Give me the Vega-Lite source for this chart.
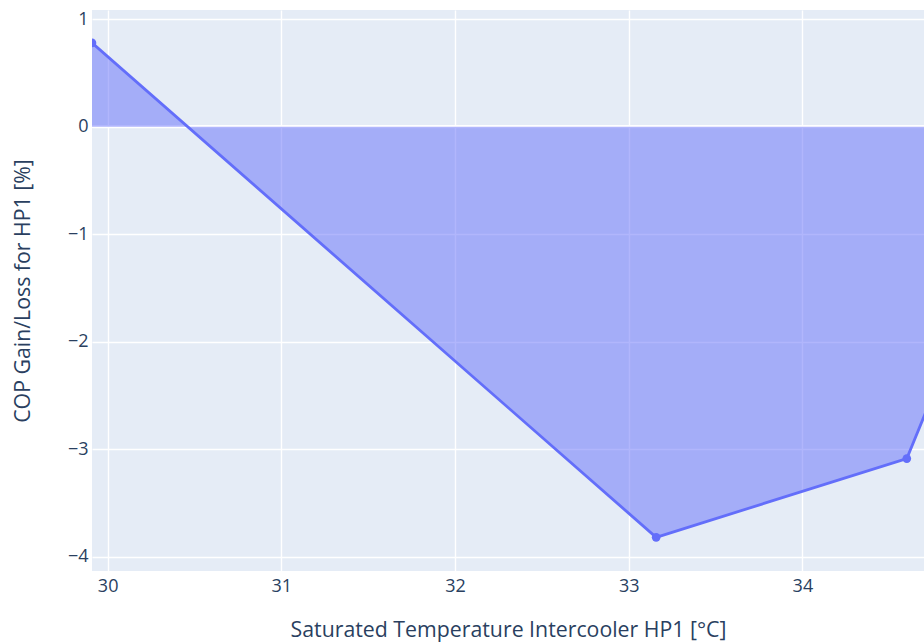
{
  "$schema": "https://vega.github.io/schema/vega-lite/v6.json",
  "autosize": "none",
  "width": 832,
  "height": 561,
  "padding": {"left": 92, "top": 10, "right": 0, "bottom": 72},
  "background": "white",
  "config": {
    "view": {"fill": "#E5ECF6", "stroke": null},
    "font": "Open Sans",
    "axis": {
      "grid": true,
      "gridColor": "white",
      "gridWidth": 1.4,
      "domain": false,
      "ticks": false,
      "labelFont": "Open Sans",
      "labelFontSize": 18,
      "labelColor": "#2a3f5f",
      "titleFont": "Open Sans",
      "titleFontSize": 21.3,
      "titleFontWeight": "normal",
      "titleColor": "#2a3f5f"
    }
  },
  "data": {
    "values": [
      {"temp": 29.91, "cop_gain": 0.78},
      {"temp": 33.158, "cop_gain": -3.82},
      {"temp": 34.601, "cop_gain": -3.087},
      {"temp": 35.0, "cop_gain": -1.51}
    ]
  },
  "layer": [
    {
      "mark": {"type": "rule", "color": "white", "strokeWidth": 2.6},
      "encoding": {"y": {"datum": 0, "type": "quantitative"}}
    },
    {
      "encoding": {
        "x": {
          "field": "temp",
          "type": "quantitative",
          "scale": {"domain": [29.91, 34.7], "nice": false, "zero": false},
          "axis": {
            "values": [30, 31, 32, 33, 34],
            "format": "d",
            "labelPadding": 6,
            "title": "Saturated Temperature Intercooler HP1 [°C]",
            "titlePadding": 24
          }
        },
        "y": {
          "field": "cop_gain",
          "type": "quantitative",
          "scale": {"domain": [-4.133, 1.086], "nice": false, "zero": false},
          "axis": {
            "values": [-4, -3, -2, -1, 0, 1],
            "format": "d",
            "labelPadding": 4,
            "title": "COP Gain/Loss for HP1 [%]",
            "titlePadding": 34
          }
        }
      },
      "layer": [
        {
          "mark": {"type": "area", "color": "#636efa", "opacity": 0.5, "clip": true},
          "encoding": {"y2": {"datum": 0}}
        },
        {
          "mark": {"type": "line", "color": "#636efa", "strokeWidth": 2.8, "clip": true}
        },
        {
          "mark": {"type": "point", "filled": true, "color": "#636efa", "opacity": 1, "size": 75, "clip": true}
        }
      ]
    }
  ]
}
